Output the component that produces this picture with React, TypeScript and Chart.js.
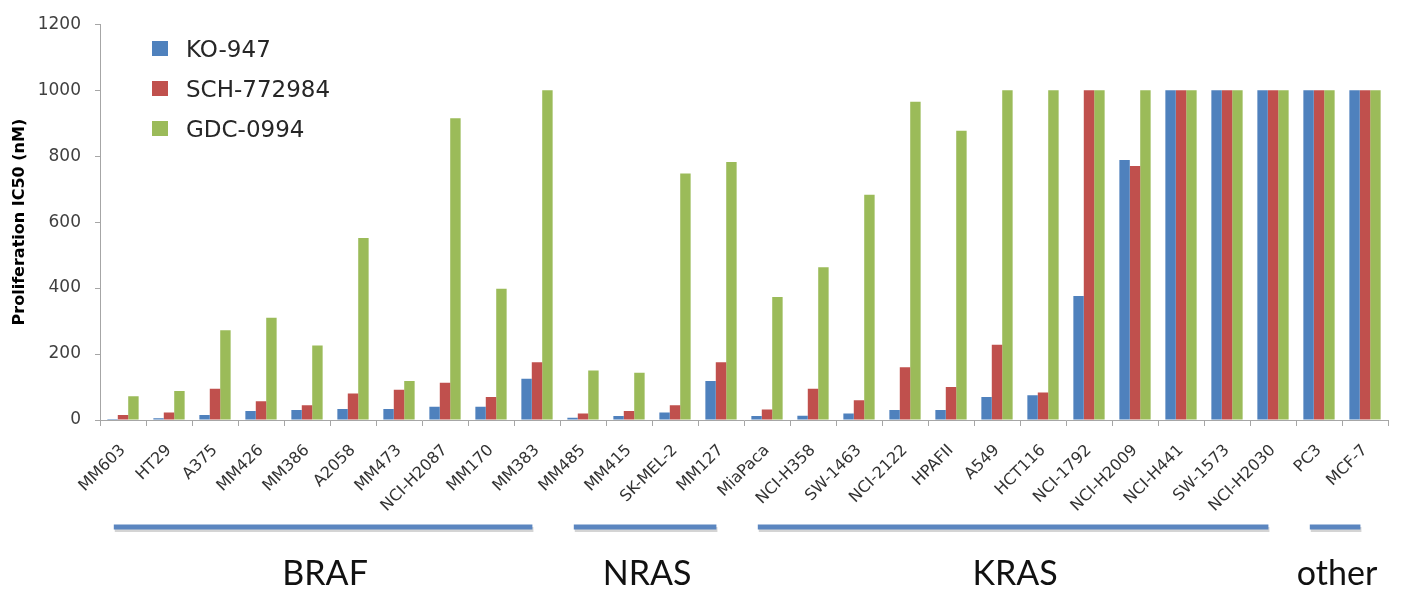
import React, { useEffect, useRef } from "react";
import { Chart, registerables } from "chart.js";

Chart.register(...registerables);

const cellLines = [
  "MM603", "HT29", "A375", "MM426", "MM386", "A2058", "MM473", "NCI-H2087", "MM170", "MM383",
  "MM485", "MM415", "SK-MEL-2", "MM127",
  "MiaPaca", "NCI-H358", "SW-1463", "NCI-2122", "HPAFII", "A549", "HCT116", "NCI-1792", "NCI-H2009", "NCI-H441", "SW-1573", "NCI-H2030",
  "PC3", "MCF-7",
];

const ko947 = [
  3, 5, 15, 27, 30, 33, 33, 40, 40, 125,
  7, 12, 23, 118,
  12, 13, 20, 30, 30, 70, 75, 376, 788, 1000, 1000, 1000,
  1000, 1000,
];

const sch772984 = [
  15, 23, 95, 57, 45, 80, 92, 113, 70, 175,
  20, 27, 45, 175,
  32, 95, 60, 160, 100, 228, 83, 1000, 770, 1000, 1000, 1000,
  1000, 1000,
];

const gdc0994 = [
  72, 88, 272, 310, 226, 552, 118, 915, 398, 1000,
  150, 143, 747, 782,
  373, 463, 683, 965, 877, 1000, 1000, 1000, 1000, 1000, 1000, 1000,
  1000, 1000,
];

const seriesNames = ["KO-947", "SCH-772984", "GDC-0994"];
const groupNames = ["BRAF", "NRAS", "KRAS", "other"];
const groupFirst = [0, 10, 14, 26];
const groupLast = [9, 13, 25, 27];
const yTicks = [0, 200, 400, 600, 800, 1000, 1200];
const yTitle = "Proliferation IC50 (nM)";

const COLORS = ["#4F81BD", "#C0504D", "#9BBB59"];
const AXIS_COLOR = "#a6a6a6";

const overlayPlugin = {
  id: "overlay",
  afterDraw(chart: any) {
    const { ctx } = chart;
    const xs = chart.scales.x;
    const w = xs.getPixelForValue(1) - xs.getPixelForValue(0);
    ctx.save();
    // legend
    const baselines = [57, 97, 137];
    chart.data.datasets.forEach((ds: any, i: number) => {
      const b = baselines[i];
      ctx.fillStyle = ds.backgroundColor;
      ctx.fillRect(152, b - 16, 16, 15);
      ctx.fillStyle = "#262626";
      ctx.font = '23px "DejaVu Sans"';
      ctx.textBaseline = "alphabetic";
      ctx.textAlign = "left";
      ctx.fillText(ds.label, 186, b);
    });
    // group brackets
    groupNames.forEach((name, g) => {
      const x0 = xs.getPixelForValue(groupFirst[g]) - 0.2 * w;
      const x1 = xs.getPixelForValue(groupLast[g]) - 0.1 * w;
      ctx.lineCap = "butt";
      ctx.strokeStyle = "rgba(160,160,160,0.45)";
      ctx.lineWidth = 5;
      ctx.beginPath();
      ctx.moveTo(x0 + 1, 529.5);
      ctx.lineTo(x1 + 1, 529.5);
      ctx.stroke();
      ctx.strokeStyle = "#5B86C0";
      ctx.lineWidth = 5;
      ctx.beginPath();
      ctx.moveTo(x0, 527);
      ctx.lineTo(x1, 527);
      ctx.stroke();
      ctx.fillStyle = "#111111";
      ctx.font = '34px "Lato"';
      ctx.textAlign = "center";
      ctx.textBaseline = "alphabetic";
      ctx.fillText(name, (x0 + x1) / 2 + 2, 585);
    });
    ctx.restore();
  },
};

export default function App() {
  const canvasRef = useRef<HTMLCanvasElement | null>(null);

  useEffect(() => {
    const canvas = canvasRef.current;
    if (!canvas) return;
    const seriesValues = [ko947, sch772984, gdc0994];
    const chart = new Chart(canvas, {
      type: "bar",
      data: {
        labels: cellLines,
        datasets: seriesValues.map((vals, i) => ({
          label: seriesNames[i],
          data: vals,
          backgroundColor: COLORS[i],
          borderWidth: 0,
          categoryPercentage: 0.68,
          barPercentage: 1.0,
        })),
      },
      options: {
        responsive: false,
        animation: false,
        devicePixelRatio: 1,
        layout: { padding: { top: 20, right: 15, left: 0, bottom: 0 } },
        plugins: {
          legend: { display: false },
          tooltip: { enabled: false },
        },
        scales: {
          x: {
            offset: true,
            grid: {
              offset: true,
              drawOnChartArea: false,
              drawTicks: true,
              tickLength: 6,
              color: AXIS_COLOR,
            },
            border: { display: true, color: AXIS_COLOR, width: 1 },
            ticks: {
              autoSkip: false,
              minRotation: 45,
              maxRotation: 45,
              padding: 15,
              color: "#333333",
              font: { family: '"DejaVu Sans"', size: 16 },
            },
            afterFit: (scale: any) => {
              scale.height = 170;
            },
          },
          y: {
            min: 0,
            max: 1200,
            grid: {
              drawOnChartArea: false,
              drawTicks: true,
              tickLength: 5,
              color: AXIS_COLOR,
            },
            border: { display: true, color: AXIS_COLOR, width: 1 },
            ticks: {
              padding: 14,
              color: "#404040",
              font: { family: '"DejaVu Sans"', size: 17 },
              callback: (v: any) => String(v),
            },
            afterBuildTicks: (scale: any) => {
              scale.ticks = yTicks.map((v) => ({ value: v }));
            },
            title: {
              display: true,
              text: yTitle,
              color: "#000000",
              font: { family: '"DejaVu Sans"', size: 16, weight: "bold" },
              padding: { top: 10, bottom: 0 },
            },
            afterFit: (scale: any) => {
              scale.width = 100;
            },
          },
        },
      },
      plugins: [overlayPlugin],
    });
    return () => chart.destroy();
  }, []);

  return (
    <div style={{ position: "fixed", left: 0, top: 0, width: 1403, height: 590, background: "#ffffff" }}>
      <canvas ref={canvasRef} width={1403} height={590} style={{ display: "block" }} />
    </div>
  );
}
